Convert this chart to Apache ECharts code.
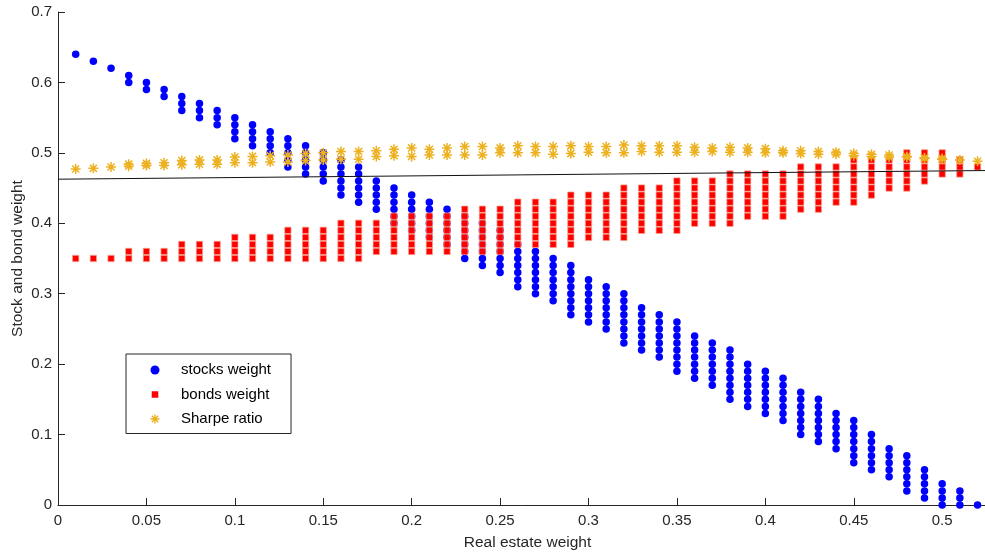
<!DOCTYPE html>
<html><head><meta charset="utf-8">
<script src="https://cdn.jsdelivr.net/npm/echarts@6/dist/echarts.min.js"></script>
<style>html,body{margin:0;padding:0;background:#fff}#c{width:985px;height:552px}</style>
</head><body><div id="c"></div>
<script>
// ---------- data ----------
const realEstate = [0.01,0.02,0.03,0.04,0.05,0.06,0.07,0.08,0.09,0.10,0.11,0.12,0.13,0.14,0.15,0.16,0.17,0.18,0.19,0.20,0.21,0.22,0.23,0.24,0.25,0.26,0.27,0.28,0.29,0.30,0.31,0.32,0.33,0.34,0.35,0.36,0.37,0.38,0.39,0.40,0.41,0.42,0.43,0.44,0.45,0.46,0.47,0.48,0.49,0.50,0.51,0.52];

const stocks = [
  [0.64],[0.63],[0.62],
  [0.61,0.60],[0.60,0.59],[0.59,0.58],
  [0.58,0.57,0.56],[0.57,0.56,0.55],[0.56,0.55,0.54],
  [0.55,0.54,0.53,0.52],[0.54,0.53,0.52,0.51],[0.53,0.52,0.51,0.50],
  [0.52,0.51,0.50,0.49,0.48],[0.51,0.50,0.49,0.48,0.47],[0.50,0.49,0.48,0.47,0.46],
  [0.49,0.48,0.47,0.46,0.45,0.44],[0.48,0.47,0.46,0.45,0.44,0.43],[0.46,0.45,0.44,0.43,0.42],
  [0.45,0.44,0.43,0.42,0.41,0.40],[0.44,0.43,0.42,0.41,0.40,0.39],[0.43,0.42,0.41,0.40,0.39,0.38],
  [0.42,0.41,0.40,0.39,0.38,0.37],
  [0.41,0.40,0.39,0.38,0.37,0.36,0.35],[0.40,0.39,0.38,0.37,0.36,0.35,0.34],[0.39,0.38,0.37,0.36,0.35,0.34,0.33],
  [0.37,0.36,0.35,0.34,0.33,0.32,0.31],[0.36,0.35,0.34,0.33,0.32,0.31,0.30],[0.35,0.34,0.33,0.32,0.31,0.30,0.29],
  [0.34,0.33,0.32,0.31,0.30,0.29,0.28,0.27],[0.32,0.31,0.30,0.29,0.28,0.27,0.26],[0.31,0.30,0.29,0.28,0.27,0.26,0.25],
  [0.30,0.29,0.28,0.27,0.26,0.25,0.24,0.23],[0.28,0.27,0.26,0.25,0.24,0.23,0.22],[0.27,0.26,0.25,0.24,0.23,0.22,0.21],
  [0.26,0.25,0.24,0.23,0.22,0.21,0.20,0.19],[0.24,0.23,0.22,0.21,0.20,0.19,0.18],[0.23,0.22,0.21,0.20,0.19,0.18,0.17],
  [0.22,0.21,0.20,0.19,0.18,0.17,0.16,0.15],[0.20,0.19,0.18,0.17,0.16,0.15,0.14],[0.19,0.18,0.17,0.16,0.15,0.14,0.13],
  [0.18,0.17,0.16,0.15,0.14,0.13,0.12],
  [0.16,0.15,0.14,0.13,0.12,0.11,0.10],[0.15,0.14,0.13,0.12,0.11,0.10,0.09],[0.13,0.12,0.11,0.10,0.09,0.08],
  [0.12,0.11,0.10,0.09,0.08,0.07,0.06],[0.10,0.09,0.08,0.07,0.06,0.05],[0.08,0.07,0.06,0.05,0.04],
  [0.07,0.06,0.05,0.04,0.03,0.02],[0.05,0.04,0.03,0.02,0.01],[0.03,0.02,0.01,0.00],
  [0.02,0.01,0.00],[0.00]
];

const bonds = [
  [0.35],[0.35],[0.35],
  [0.36,0.35],[0.36,0.35],[0.36,0.35],
  [0.37,0.36,0.35],[0.37,0.36,0.35],[0.37,0.36,0.35],
  [0.38,0.37,0.36,0.35],[0.38,0.37,0.36,0.35],[0.38,0.37,0.36,0.35],
  [0.39,0.38,0.37,0.36,0.35],[0.39,0.38,0.37,0.36,0.35],[0.39,0.38,0.37,0.36,0.35],
  [0.40,0.39,0.38,0.37,0.36,0.35],[0.40,0.39,0.38,0.37,0.36,0.35],[0.40,0.39,0.38,0.37,0.36],
  [0.41,0.40,0.39,0.38,0.37,0.36],[0.41,0.40,0.39,0.38,0.37,0.36],[0.41,0.40,0.39,0.38,0.37,0.36],
  [0.41,0.40,0.39,0.38,0.37,0.36],
  [0.42,0.41,0.40,0.39,0.38,0.37,0.36],[0.42,0.41,0.40,0.39,0.38,0.37,0.36],[0.42,0.41,0.40,0.39,0.38,0.37,0.36],
  [0.43,0.42,0.41,0.40,0.39,0.38,0.37],[0.43,0.42,0.41,0.40,0.39,0.38,0.37],[0.43,0.42,0.41,0.40,0.39,0.38,0.37],
  [0.44,0.43,0.42,0.41,0.40,0.39,0.38,0.37],[0.44,0.43,0.42,0.41,0.40,0.39,0.38],[0.44,0.43,0.42,0.41,0.40,0.39,0.38],
  [0.45,0.44,0.43,0.42,0.41,0.40,0.39,0.38],[0.45,0.44,0.43,0.42,0.41,0.40,0.39],[0.45,0.44,0.43,0.42,0.41,0.40,0.39],
  [0.46,0.45,0.44,0.43,0.42,0.41,0.40,0.39],[0.46,0.45,0.44,0.43,0.42,0.41,0.40],[0.46,0.45,0.44,0.43,0.42,0.41,0.40],
  [0.47,0.46,0.45,0.44,0.43,0.42,0.41,0.40],[0.47,0.46,0.45,0.44,0.43,0.42,0.41],[0.47,0.46,0.45,0.44,0.43,0.42,0.41],
  [0.47,0.46,0.45,0.44,0.43,0.42,0.41],
  [0.48,0.47,0.46,0.45,0.44,0.43,0.42],[0.48,0.47,0.46,0.45,0.44,0.43,0.42],[0.48,0.47,0.46,0.45,0.44,0.43],
  [0.49,0.48,0.47,0.46,0.45,0.44,0.43],[0.49,0.48,0.47,0.46,0.45,0.44],[0.49,0.48,0.47,0.46,0.45],
  [0.50,0.49,0.48,0.47,0.46,0.45],[0.50,0.49,0.48,0.47,0.46],[0.50,0.49,0.48,0.47],
  [0.49,0.48,0.47],[0.48]
];

const sharpeHigh = [0.477,0.478,0.480,0.484,0.485,0.486,0.489,0.490,0.490,0.494,0.495,0.496,0.497,0.499,0.500,0.502,0.502,0.503,0.505,0.507,0.505,0.507,0.509,0.509,0.507,0.510,0.509,0.509,0.510,0.509,0.509,0.511,0.510,0.510,0.510,0.508,0.507,0.508,0.507,0.506,0.503,0.503,0.502,0.501,0.499,0.498,0.497,0.495,0.493,0.492,0.490,0.488];
const sharpeLow  = [0.477,0.478,0.480,0.481,0.482,0.482,0.483,0.484,0.484,0.486,0.486,0.487,0.487,0.489,0.490,0.491,0.491,0.495,0.496,0.495,0.497,0.497,0.497,0.497,0.500,0.500,0.500,0.498,0.499,0.501,0.500,0.500,0.502,0.501,0.501,0.501,0.502,0.501,0.501,0.500,0.500,0.499,0.498,0.498,0.496,0.495,0.494,0.494,0.492,0.491,0.490,0.488];

const refLineX = [0, 0.5243];
const refLineY = [0.4626, 0.4749];

const xTickValues = [0,0.05,0.1,0.15,0.2,0.25,0.3,0.35,0.4,0.45,0.5];
const seriesNames = ['stocks weight','bonds weight','Sharpe ratio'];
const xAxisTitle = 'Real estate weight';
const yAxisTitle = 'Stock and bond weight';

// ---------- build ----------
function toPoints(groups){
  const out = [];
  groups.forEach((g,i)=>g.forEach(v=>out.push([realEstate[i], v])));
  return out;
}
const sharpePts = [];
realEstate.forEach((x,i)=>{
  sharpePts.push([x, sharpeLow[i]]);
  if (sharpeHigh[i] !== sharpeLow[i]) sharpePts.push([x, sharpeHigh[i]]);
});
const refLine = refLineX.map((x,i)=>[x, refLineY[i]]);

const FONT = '"Liberation Sans", Arial, Helvetica, sans-serif';
const AXC = '#262626';
const STAR = 'path://M-1.5,-10L1.5,-10L1.5,10L-1.5,10Z M-10,-1.5L10,-1.5L10,1.5L-10,1.5Z M-8.13,-6.01L-6.01,-8.13L8.13,6.01L6.01,8.13Z M6.01,-8.13L8.13,-6.01L-6.01,8.13L-8.13,6.01Z';
const SQUARE_ICON = 'path://M-4.5,-4.5L-4.49,-4.5L-4.5,-4.49Z M4.5,4.5L4.49,4.5L4.5,4.49Z M-3.3,-3.3L3.3,-3.3L3.3,3.3L-3.3,3.3Z';

const chart = echarts.init(document.getElementById('c'), null, {renderer:'canvas'});
chart.setOption({
  animation: false,
  backgroundColor: '#fff',
  textStyle: {fontFamily: FONT},
  grid: {left: 58, top: 12, right: -12, bottom: 47, containLabel: false, outerBoundsMode: 'none'},
  xAxis: {
    type: 'value', min: 0, max: 0.531, interval: 0.05,
    name: xAxisTitle, nameLocation: 'middle', nameGap: 30, nameMoveOverlap: false,
    nameTextStyle: {fontSize: 15.5, color: AXC, fontFamily: FONT},
    axisLine: {show: true, onZero: false, lineStyle: {color: AXC, width: 1}},
    axisTick: {show: true, inside: true, length: 7, lineStyle: {color: AXC}, customValues: xTickValues},
    axisLabel: {fontSize: 15, color: AXC, margin: 8, fontFamily: FONT, customValues: xTickValues},
    splitLine: {show: false}
  },
  yAxis: {
    type: 'value', min: 0, max: 0.7, interval: 0.1,
    name: yAxisTitle, nameLocation: 'middle', nameGap: 32.5, nameMoveOverlap: false,
    nameTextStyle: {fontSize: 15.5, color: AXC, fontFamily: FONT},
    axisLine: {show: true, onZero: false, lineStyle: {color: AXC, width: 1}},
    axisTick: {show: true, inside: true, length: 7, lineStyle: {color: AXC}},
    axisLabel: {fontSize: 15, color: AXC, margin: 6, fontFamily: FONT},
    splitLine: {show: false}
  },
  legend: {
    orient: 'vertical', left: 126, top: 354,
    itemWidth: 42, itemHeight: 9, itemGap: 9.5,
    padding: [8.5, 20, 7, 24.5],
    borderColor: AXC, borderWidth: 1, backgroundColor: '#fff',
    selectedMode: false,
    textStyle: {fontSize: 15, color: '#000', fontFamily: FONT},
    data: [
      {name: seriesNames[0], icon: 'circle', itemStyle: {borderWidth: 0}},
      {name: seriesNames[1], icon: SQUARE_ICON, itemStyle: {borderWidth: 0}},
      {name: seriesNames[2], icon: STAR, itemStyle: {borderWidth: 0}}
    ]
  },
  series: [
    {name: seriesNames[0], type: 'scatter', z: 2, symbol: 'circle', symbolSize: 7.5,
     itemStyle: {color: '#0000ff', opacity: 1}, data: toPoints(stocks)},
    {name: seriesNames[1], type: 'scatter', z: 3, symbol: 'rect', symbolSize: 6.3,
     itemStyle: {color: '#ff0000', borderColor: '#f7a08a', borderWidth: 0.7, opacity: 1}, data: toPoints(bonds)},
    {name: seriesNames[2], type: 'scatter', z: 4, symbol: STAR, symbolSize: 10,
     itemStyle: {color: '#EDB120', opacity: 1}, data: sharpePts},
    {name: 'fit', type: 'line', z: 5, symbol: 'none', silent: true,
     lineStyle: {color: '#111', width: 1}, data: refLine}
  ]
});
</script>
</body></html>
